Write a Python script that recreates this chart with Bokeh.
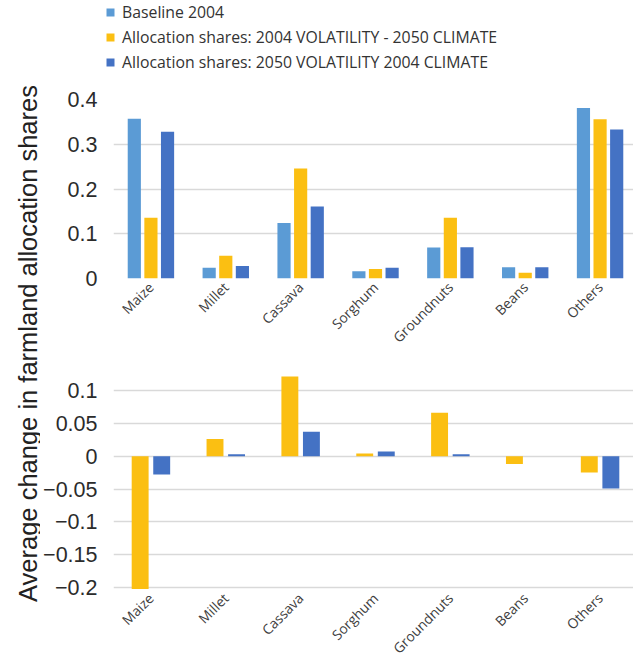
from math import pi
from bokeh.plotting import figure
from bokeh.models import (ColumnDataSource, FactorRange, FixedTicker, Legend, LegendItem, Label)
from bokeh.transform import dodge
from bokeh.layouts import row, column
from bokeh.embed import file_html
from bokeh.resources import INLINE

crops = ["Maize", "Millet", "Cassava", "Sorghum", "Groundnuts", "Beans", "Others"]
baseline_2004 = [0.357, 0.024, 0.124, 0.016, 0.069, 0.025, 0.381]
vol2004_clim2050 = [0.136, 0.051, 0.246, 0.021, 0.136, 0.013, 0.356]
vol2050_clim2004 = [0.328, 0.028, 0.161, 0.024, 0.070, 0.025, 0.333]
change_vol2004_clim2050 = [-0.202, 0.026, 0.121, 0.004, 0.066, -0.012, -0.025]
change_vol2050_clim2004 = [-0.028, 0.003, 0.037, 0.007, 0.003, 0.000, -0.049]
series_names = ["Baseline 2004",
                "Allocation shares: 2004 VOLATILITY - 2050 CLIMATE",
                "Allocation shares: 2050 VOLATILITY 2004 CLIMATE"]
top_ticks = [0, 0.1, 0.2, 0.3, 0.4]
top_tick_labels = ["0", "0.1", "0.2", "0.3", "0.4"]
bottom_ticks = [-0.2, -0.15, -0.1, -0.05, 0, 0.05, 0.1]
bottom_tick_labels = ["\u22120.2", "\u22120.15", "\u22120.1", "\u22120.05", "0", "0.05", "0.1"]
y_title = "Average change in farmland allocation shares"

C_BASE = "#5B9BD5"
C_GOLD = "#FBBF12"
C_BLUE = "#4472C4"
GRID = "#D9D9D9"
TICK_FONT = "Liberation Sans"
CAT_FONT = "Open Sans"
COLORS = [C_BASE, C_GOLD, C_BLUE]
TOP_COLS = ["base", "a", "b"]


def style(p, ticks, labels):
    p.outline_line_color = None
    p.background_fill_color = "white"
    p.border_fill_color = "white"
    p.xgrid.grid_line_color = None
    p.ygrid.grid_line_color = GRID
    p.ygrid.grid_line_width = 1.6
    p.yaxis.ticker = FixedTicker(ticks=ticks)
    p.ygrid.ticker = FixedTicker(ticks=ticks)
    p.yaxis.major_label_overrides = dict(zip(ticks, labels))
    p.yaxis.axis_line_color = None
    p.yaxis.major_tick_line_color = None
    p.yaxis.minor_tick_line_color = None
    p.yaxis.major_label_text_font = TICK_FONT
    p.yaxis.major_label_text_font_size = "21.5px"
    p.yaxis.major_label_text_color = "#2b2b2b"
    p.yaxis.major_label_standoff = 10
    p.xaxis.axis_line_color = None
    p.xaxis.major_tick_line_color = None
    p.xaxis.minor_tick_line_color = None
    p.xaxis.major_label_orientation = pi / 4
    p.xaxis.major_label_text_font = CAT_FONT
    p.xaxis.major_label_text_font_size = "13.8px"
    p.xaxis.major_label_text_color = "#404040"
    p.xaxis.major_label_standoff = 0
    p.x_range.range_padding = 0


src_top = ColumnDataSource(dict(crop=crops, base=baseline_2004, a=vol2004_clim2050, b=vol2050_clim2004))
src_bot = ColumnDataSource(dict(crop=crops, a=change_vol2004_clim2050, b=change_vol2050_clim2004))

# legend strip (holds the legend; its series renderers are hidden)
leg = figure(frame_width=593, frame_height=80, x_range=FactorRange(*crops), y_range=(0, 1),
             min_border=0, toolbar_location=None, output_backend="svg")
leg.axis.visible = False
leg.grid.visible = False
leg.outline_line_color = None
leg_rs = [leg.vbar(x="crop", top=col, width=0.2, source=src_top,
                   fill_color=c, line_color=None, visible=False)
          for col, c in zip(TOP_COLS, COLORS)]
legend = Legend(items=[LegendItem(label=n, renderers=[r]) for n, r in zip(series_names, leg_rs)],
                location=(65, 7), orientation="vertical",
                glyph_width=10, glyph_height=10, label_standoff=7,
                label_height=20, spacing=3, padding=0, margin=0,
                border_line_color=None, background_fill_alpha=0,
                label_text_font=CAT_FONT, label_text_font_size="15.8px",
                label_text_color="#333333")
leg.add_layout(legend, "center")

top = figure(x_range=FactorRange(*crops), y_range=(0, 0.4),
             frame_width=524, frame_height=179,
             min_border_left=69, min_border_right=0, min_border_top=19, min_border_bottom=82,
             toolbar_location=None, output_backend="svg")
for off, col, c in zip([-0.222, 0.0, 0.222], TOP_COLS, COLORS):
    top.vbar(x=dodge("crop", off, range=top.x_range), top=col, width=0.176, source=src_top,
             fill_color=c, line_color=None)
style(top, top_ticks, top_tick_labels)

bot = figure(x_range=FactorRange(*crops), y_range=(-0.2026, 0.124),
             frame_width=524, frame_height=215,
             min_border_left=69, min_border_right=0, min_border_top=14, min_border_bottom=73,
             toolbar_location=None, output_backend="svg")
bot.vbar(x=dodge("crop", -0.144, range=bot.x_range), top="a", bottom=0, width=0.226, source=src_bot,
         fill_color=C_GOLD, line_color=None)
bot.vbar(x=dodge("crop", 0.144, range=bot.x_range), top="b", bottom=0, width=0.226, source=src_bot,
         fill_color=C_BLUE, line_color=None)
style(bot, bottom_ticks, bottom_tick_labels)

lab = figure(width=40, height=662, x_range=(0, 40), y_range=(0, 662),
             min_border=0, toolbar_location=None, output_backend="svg")
lab.axis.visible = False
lab.grid.visible = False
lab.outline_line_color = None
lab.add_layout(Label(x=27, y=662 - 343, x_units="screen", y_units="screen", text=y_title,
                     angle=pi / 2, text_align="center", text_baseline="middle",
                     text_font=TICK_FONT, text_font_size="25.5px", text_color="#222222"))

layout = row(lab, column(leg, top, bot))
open("out.html", "w").write(file_html(layout, INLINE))
